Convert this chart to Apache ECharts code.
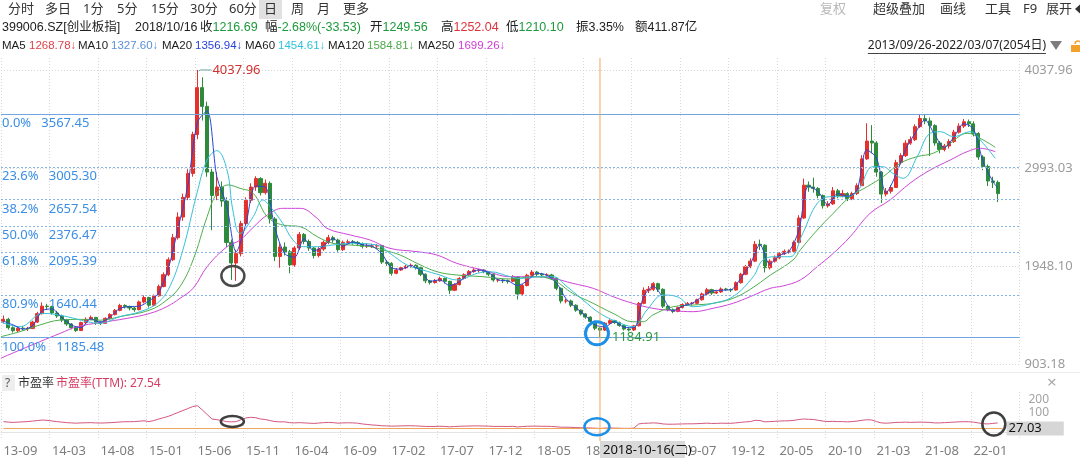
<!DOCTYPE html>
<html><head><meta charset="utf-8">
<script src="https://cdn.jsdelivr.net/npm/echarts@6/dist/echarts.min.js"></script>
<style>html,body{margin:0;padding:0;background:#fff;}#c{width:1080px;height:458px;}</style>
</head><body><div id="c"></div>
<script>
// ---- data (10-trading-day bars, 2013/09/26 - 2022/03/07) ----
const tickLabels = ['13-09','14-03','14-08','15-01','15-06','15-11','16-04','16-09','17-02','17-07','17-12','18-05','18-10','19-03','19-07','19-12','20-05','20-10','21-03','21-08','22-01'];
const opens = [
1360,1380,1290,1258,1285,1282,1283,1350,1440,1520,
1515,1447,1415,1372,1330,1290,1260,1345,1380,1400,
1350,1337,1390,1430,1475,1528,1517,1500,1482,1565,
1612,1530,1630,1730,1855,2015,2250,2470,2680,2935,
3350,3850,3650,2950,2700,2790,2640,2200,1980,2080,
2400,2650,2790,2880,2730,2830,2450,2050,2150,2100,
1960,2140,2285,2210,2140,2060,2130,2200,2250,2225,
2122,2200,2207,2200,2185,2158,2160,2161,2165,1990,
1976,1870,1905,1930,1945,1956,1930,1860,1790,1772,
1790,1815,1785,1690,1750,1815,1855,1890,1905,1905,
1890,1860,1799,1799,1790,1785,1830,1650,1740,1850,
1883,1860,1852,1852,1818,1710,1575,1575,1530,1477,
1437,1403,1358,1285,1265,1338,1365,1346,1315,1276,
1266,1310,1550,1690,1700,1760,1700,1520,1482,1463,
1505,1537,1550,1550,1588,1650,1695,1660,1672,1703,
1697,1692,1770,1860,1940,2000,2180,2170,1930,2000,
2035,2080,2105,2105,2200,2460,2810,2790,2775,2700,
2590,2610,2750,2695,2720,2665,2720,2805,3090,3280,
3260,2950,2715,2745,2785,3050,3125,3258,3295,3434,
3520,3495,3445,3260,3190,3228,3275,3375,3440,3486,
3464,3360,3110,3010,2855,2840];
const closes = [
1380,1290,1258,1285,1282,1283,1350,1440,1520,1515,
1447,1415,1372,1330,1290,1260,1345,1380,1400,1350,
1337,1390,1430,1475,1528,1517,1500,1482,1565,1612,
1530,1630,1730,1855,2015,2250,2470,2680,2935,3350,
3850,3650,2950,2700,2790,2640,2200,1980,2080,2400,
2650,2790,2880,2730,2830,2450,2050,2150,2100,1960,
2140,2285,2210,2140,2060,2130,2200,2250,2225,2122,
2200,2207,2200,2185,2158,2160,2161,2165,1990,1976,
1870,1905,1930,1945,1956,1930,1860,1790,1772,1790,
1815,1785,1690,1750,1815,1855,1890,1905,1905,1890,
1860,1799,1799,1790,1785,1830,1650,1740,1850,1883,
1860,1852,1852,1818,1710,1575,1575,1530,1477,1437,
1403,1358,1285,1265,1338,1365,1346,1315,1276,1266,
1310,1550,1690,1700,1760,1700,1520,1482,1463,1505,
1537,1550,1550,1588,1650,1695,1660,1672,1703,1697,
1692,1770,1860,1940,2000,2180,2170,1930,2000,2035,
2080,2105,2105,2200,2460,2810,2790,2775,2700,2590,
2610,2750,2695,2720,2665,2720,2805,3090,3280,3260,
2950,2715,2745,2785,3050,3125,3258,3295,3434,3520,
3495,3445,3260,3190,3228,3275,3375,3440,3486,3464,
3360,3110,3010,2855,2840,2720];
const lows = [
1335,1270,1238,1245,1260,1255,1275,1340,1430,1480,
1430,1395,1350,1310,1272,1245,1255,1330,1370,1320,
1318,1330,1380,1420,1465,1495,1475,1460,1475,1550,
1505,1520,1620,1720,1840,2000,2230,2430,2650,2900,
3300,3500,2900,2330,2650,2580,2150,1800,1790,2050,
2380,2620,2750,2700,2710,2400,2000,1930,2060,1870,
1940,2120,2180,2110,2030,2040,2110,2180,2195,2100,
2110,2180,2175,2160,2135,2140,2140,2130,1970,1950,
1845,1860,1895,1915,1930,1910,1840,1765,1750,1760,
1780,1760,1650,1680,1740,1805,1845,1875,1880,1870,
1840,1780,1775,1765,1760,1775,1590,1635,1730,1835,
1840,1830,1830,1800,1690,1550,1550,1510,1460,1420,
1385,1340,1265,1184.91,1255,1325,1330,1300,1260,1250,
1255,1305,1540,1660,1680,1670,1500,1465,1445,1455,
1495,1525,1530,1540,1580,1640,1640,1650,1660,1680,
1670,1685,1760,1850,1925,1990,2120,1880,1910,1985,
2020,2065,2080,2095,2190,2450,2740,2730,2670,2560,
2570,2600,2670,2680,2640,2650,2705,2800,3080,3150,
2900,2620,2690,2720,2780,3030,3110,3240,3280,3420,
3460,3120,3230,3150,3170,3200,3260,3360,3420,3430,
3330,3080,2970,2800,2780,2630];
const highs = [
1420,1395,1305,1300,1310,1300,1365,1460,1560,1545,
1525,1470,1430,1385,1340,1300,1355,1400,1420,1405,
1360,1400,1445,1490,1545,1540,1525,1510,1580,1635,
1620,1645,1750,1880,2040,2290,2520,2720,2980,3380,
4037.96,3960,3700,3000,2950,2850,2680,2230,2120,2430,
2680,2830,2905,2895,2870,2850,2470,2190,2200,2120,
2160,2310,2300,2230,2150,2150,2220,2280,2270,2240,
2220,2230,2225,2215,2200,2190,2185,2180,2170,2010,
1990,1925,1945,1960,1975,1965,1940,1870,1800,1810,
1835,1825,1790,1765,1830,1870,1905,1925,1920,1915,
1895,1870,1815,1810,1805,1850,1840,1755,1865,1905,
1895,1875,1870,1865,1825,1720,1600,1590,1540,1485,
1445,1410,1365,1300,1350,1380,1375,1355,1320,1285,
1320,1565,1720,1735,1775,1770,1710,1530,1495,1515,
1550,1565,1565,1600,1665,1715,1705,1690,1720,1715,
1710,1785,1875,1960,2030,2215,2230,2180,2020,2060,
2095,2125,2125,2220,2490,2880,2850,2890,2790,2710,
2640,2790,2770,2760,2735,2740,2830,3130,3470,3450,
3280,2960,2780,2810,3080,3150,3290,3330,3460,3567.45,
3565,3530,3460,3280,3250,3300,3400,3470,3515,3510,
3490,3375,3130,3030,2900,2860];
const peValues = [
80,76,74,76,78,80,84,88,92,90,
85,80,76,72,70,68,70,71,72,70,
69,70,72,74,77,79,79,80,83,86,
80,88,100,110,120,135,150,165,180,195,
202,170,135,100,95,88,80,78,80,95,
108,113,110,100,96,88,80,78,78,72,
70,72,70,68,66,69,72,74,72,68,
70,71,70,68,62,58,54,52,48,47,
45,46,47,48,48,47,45,43,42,43,
44,43,40,42,44,45,46,47,47,46,
45,43,43,43,42,44,39,42,44,45,
45,44,44,43,40,37,37,36,34,33,
32,31,29,27.5,30,31,30,29,28,28,
30,62,67,68,70,68,62,60,60,61,
62,63,63,64,66,68,66,66,68,67,
67,70,74,78,80,90,88,78,80,82,
84,86,86,90,96,100,98,96,90,84,
80,82,80,80,78,80,84,90,94,93,
80,70,68,70,74,74,76,74,75,76,
75,74,70,70,72,74,76,78,79,79,
76,70,64,62,66,70];
// moving averages: [bar index, value]
const ma20 = [[0,1360],[2,1320],[4,1275],[6,1310],[8,1470],[10,1490],[12,1400],[14,1320],[16,1290],[18,1385],[20,1350],[22,1405],[24,1495],[26,1515],[28,1520],[30,1575],[32,1660],[34,1920],[36,2350],[38,2800],[40,3480],[42,3600],[44,2900],[46,2600],[48,2100],[50,2400],[52,2800],[54,2790],[56,2350],[58,2080],[60,2040],[62,2240],[64,2110],[66,2160],[68,2240],[70,2160],[72,2205],[74,2175],[76,2160],[78,2080],[80,1930],[82,1915],[84,1950],[86,1900],[88,1785],[90,1800],[92,1740],[94,1780],[96,1870],[98,1905],[100,1880],[102,1800],[104,1790],[106,1740],[108,1790],[110,1870],[112,1852],[114,1770],[116,1600],[118,1505],[120,1420],[122,1320],[124,1300],[126,1355],[128,1295],[130,1290],[132,1620],[134,1730],[136,1610],[138,1470],[140,1520],[142,1550],[144,1620],[146,1680],[148,1690],[150,1695],[152,1815],[154,1970],[156,2175],[158,1970],[160,2060],[162,2105],[164,2330],[166,2800],[168,2740],[170,2600],[172,2720],[174,2690],[176,2760],[178,3185],[180,3100],[182,2730],[184,2920],[186,3190],[188,3365],[190,3505],[192,3350],[194,3210],[196,3325],[198,3465],[200,3410],[202,3060],[204,2850],[205,2780]];
const ma60 = [[-0.5,1350],[3.4,1301],[8.2,1443],[13.1,1408],[17.2,1355],[19.9,1337],[24,1408],[28.2,1461],[31.7,1550],[34.3,1728],[37,2119],[39.9,2723],[42,3078],[44,3178],[46.1,2972],[47.3,2545],[48.8,2296],[51.5,2474],[53.5,2652],[55,2581],[57.6,2403],[59.7,2225],[61.8,2154],[64.7,2154],[67.9,2172],[71.5,2190],[77,2172],[79.7,2083],[83.2,1959],[86.5,1905],[90,1852],[93.5,1799],[97.7,1870],[100.3,1887],[104.5,1834],[106.5,1816],[110.6,1834],[113.3,1834],[116.2,1728],[119.5,1586],[123,1443],[126.5,1354],[129.8,1301],[132.7,1479],[136,1639],[138.9,1621],[142.2,1514],[146.3,1550],[150.4,1621],[154.6,1834],[156.6,2012],[159.5,2047],[162.2,2047],[164.8,2296],[167.8,2616],[170.4,2687],[173.1,2687],[176,2741],[179.3,3007],[181.3,3007],[183.4,2936],[185.5,2883],[188.4,3114],[191.1,3363],[193.2,3380],[195.9,3327],[199.3,3380],[202,3256],[204.5,3096]];
const ma120 = [[-0.5,1195],[3.4,1248],[7.5,1319],[11.7,1372],[15.8,1379],[19.9,1370],[24,1408],[30.2,1479],[33.7,1586],[36.4,1728],[39.1,2012],[42,2474],[44,2723],[46.3,2812],[48.8,2776],[51.5,2723],[54.4,2474],[57.6,2385],[61.2,2367],[64.7,2261],[67.9,2190],[71.5,2172],[75.6,2154],[78.3,2119],[81.8,2065],[85.3,1976],[89.4,1887],[93.5,1852],[98.9,1834],[104.5,1810],[109.2,1834],[113.3,1799],[117.4,1656],[121.6,1550],[125.7,1443],[129.8,1354],[131.9,1354],[133.9,1425],[138.1,1514],[142.2,1532],[146.3,1550],[150.4,1603],[154,1700],[158.1,1850],[162.8,2012],[164.3,2119],[167.8,2332],[171.1,2510],[174.6,2687],[178.1,2794],[181.4,2901],[184.9,3043],[188.4,3114],[191.7,3150],[195.2,3256],[198.7,3363],[202,3292],[204.5,3213]];
const ma250 = [[-0.5,966],[3.4,1052],[7.5,1141],[11.7,1230],[15.2,1301],[19.9,1344],[25.5,1390],[30.2,1443],[33.7,1515],[36.4,1603],[39.1,1710],[42,1941],[46.1,2154],[48.8,2225],[51.3,2350],[54.4,2492],[57.6,2563],[61.2,2563],[64.7,2456],[66.7,2350],[71.5,2279],[75.6,2225],[79.7,2136],[85.3,2101],[89.4,2065],[93.5,1976],[98.9,1905],[104.5,1834],[109.2,1834],[113.3,1816],[117.4,1763],[121.6,1710],[125.7,1621],[129.8,1550],[133.9,1497],[138.1,1472],[142.2,1461],[146.3,1497],[150.4,1550],[154,1622],[158.1,1710],[160.7,1735],[164.3,1799],[167.8,1941],[171.1,2083],[174.6,2261],[178.7,2510],[182.8,2652],[186.9,2830],[191.1,2972],[195.2,3078],[198.7,3167],[201.4,3203],[204.5,3167]];
const fibLevels = [['0.0%',3567.45,true],['23.6%',3005.30,false],['38.2%',2657.54,false],['50.0%',2376.47,false],['61.8%',2095.39,false],['80.9%',1640.44,false],['100.0%',1185.48,true]];
const yTickValues = [903.18, 1948.10, 2993.03, 4037.96];
const peTickValues = [100, 200];
const peakIdx = 40, peakValue = 4037.96, lowIdx = 123, lowValue = 1184.91;
const crossIdx = 123, crossDate = '2018-10-16(二)', crossPE = 27.03;
const maLegend = [['MA5','1268.78↓','#e0434b'],['MA10','1327.60↓','#5b8fd8'],['MA20','1356.94↓','#2741d8'],['MA60','1454.61↓','#2fc2d8'],['MA120','1584.81↓','#4caa4a'],['MA250','1699.26↓','#d23ad6']];

// ---- chart ----
const FONT = "'Noto Sans','Noto Sans CJK SC',sans-serif";
const FONT2 = "'Liberation Sans','Noto Sans CJK SC',sans-serif";
const N = 210;
const categories = Array.from({length: N}, (_, i) => 'B' + i);
const every10 = (i) => i % 10 === 0 && i <= 200;
const candleData = closes.map((c, i) => [opens[i], c, lows[i], highs[i]]);

const markData = [];
yTickValues.forEach(v => markData.push({yAxis: v, lineStyle: {type: [1, 2], color: '#d6d6d6', width: 1}, label: {show: false}}));
fibLevels.forEach(([pct, v, solid]) => markData.push({
  yAxis: v,
  lineStyle: solid ? {type: 'solid', color: '#6fa5e0', width: 1} : {type: [2, 2], color: '#86b6ea', width: 1},
  label: {show: true, position: 'insideStartBottom', distance: [1, 3], formatter: pct + '   ' + v.toFixed(2), color: '#3a8ee6', fontSize: 13, fontFamily: FONT}
}));

const option = {
  animation: false,
  backgroundColor: '#ffffff',
  grid: [
    {left: 1, right: 60.5, top: 58, height: 306},
    {left: 1, right: 60.5, top: 392, height: 48}
  ],
  xAxis: [
    {type: 'category', gridIndex: 0, data: categories, axisLine: {show: false}, axisTick: {show: false}, axisLabel: {show: false},
     splitLine: {show: true, interval: every10, lineStyle: {type: [1, 2], color: '#d9d9d9'}}},
    {type: 'category', gridIndex: 1, data: categories, axisLine: {show: true, lineStyle: {color: '#e4e4e4'}}, axisTick: {show: false},
     axisLabel: {interval: every10, formatter: (v, i) => tickLabels[i / 10] || '', align: 'left', color: '#7d7d7d', fontSize: 13, margin: 5, fontFamily: FONT},
     splitLine: {show: true, interval: every10, lineStyle: {type: [1, 2], color: '#d9d9d9'}}},
    {type: 'value', gridIndex: 0, min: -0.5, max: N - 0.5, show: false}
  ],
  yAxis: [
    {type: 'value', gridIndex: 0, position: 'right', min: 903.18, max: 4165.91, splitLine: {show: false}, axisLine: {show: false}, axisTick: {show: false},
     axisLabel: {customValues: yTickValues, formatter: v => v.toFixed(2), color: '#9b9b9b', fontSize: 13, margin: 5, fontFamily: FONT}},
    {type: 'value', gridIndex: 1, position: 'right', min: -61.5, max: 307.7, splitLine: {show: false}, axisLine: {show: false}, axisTick: {show: false},
     axisLabel: {customValues: peTickValues, verticalAlign: 'bottom', color: '#a3a3a3', fontSize: 12, margin: 9, fontFamily: FONT}}
  ],
  series: [
    {type: 'candlestick', xAxisIndex: 0, yAxisIndex: 0, data: candleData, barWidth: 3.6,
     itemStyle: {color: '#e5312c', color0: '#2e8b3b', borderColor: '#e5312c', borderColor0: '#2e8b3b', borderWidth: 1},
     markLine: {silent: true, symbol: ['none', 'none'], animation: false, data: markData}},
    {type: 'line', name: 'MA250', xAxisIndex: 2, yAxisIndex: 0, data: ma250, showSymbol: false, smooth: 0.4, lineStyle: {color: '#cf45d8', width: 1}},
    {type: 'line', name: 'MA120', xAxisIndex: 2, yAxisIndex: 0, data: ma120, showSymbol: false, smooth: 0.4, lineStyle: {color: '#4fae4d', width: 1}},
    {type: 'line', name: 'MA60', xAxisIndex: 2, yAxisIndex: 0, data: ma60, showSymbol: false, smooth: 0.4, lineStyle: {color: '#36c2d8', width: 1}},
    {type: 'line', name: 'MA20', xAxisIndex: 2, yAxisIndex: 0, data: ma20, showSymbol: false, smooth: 0.3, lineStyle: {color: '#2a44d8', width: 1}},
    {type: 'line', name: 'PE', xAxisIndex: 1, yAxisIndex: 1, data: peValues, showSymbol: false, lineStyle: {color: '#d4577c', width: 1},
     markLine: {silent: true, symbol: ['none', 'none'], animation: false,
       lineStyle: {type: 'solid', color: '#f0a65a', width: 1},
       label: {show: true, position: 'end', distance: 4, formatter: crossPE.toFixed(2), color: '#111', fontSize: 13, fontFamily: FONT, backgroundColor: '#d6d6d6', padding: [1, 22, 0, 2]},
       data: [[{coord: [0, crossPE]}, {coord: [206, crossPE]}]]}}
  ]
};

const chart = echarts.init(document.getElementById('c'));
chart.setOption(option);

const P = (i, v) => chart.convertToPixel({seriesIndex: 0}, [i, v]);
const PP = (i, v) => chart.convertToPixel({seriesIndex: 5}, [i, v]);
const g = [];
function T(x, y, text, fill, size, extra, fam) {
  g.push({type: 'text', x: x, y: y, silent: true, z: 100, style: Object.assign({text: text, fill: fill, font: (size || 12) + 'px ' + (fam || FONT), align: 'left', verticalAlign: 'middle', textAlign: 'left', textVerticalAlign: 'middle'}, extra || {})});
}
function L(x1, y1, x2, y2, stroke, w, z) {
  g.push({type: 'line', silent: true, z: z || 90, shape: {x1: x1, y1: y1, x2: x2, y2: y2}, style: {stroke: stroke, lineWidth: w || 1}});
}
function E(cx, cy, rx, ry, stroke, w) {
  g.push({type: 'ellipse', silent: true, z: 95, shape: {cx: cx, cy: cy, rx: rx, ry: ry}, style: {fill: 'none', stroke: stroke, lineWidth: w}});
}
// toolbar
g.push({type: 'rect', silent: true, z: 99, shape: {x: 259, y: 0, width: 23, height: 19}, style: {fill: '#e1e1e1'}});
[['分时', 8], ['多日', 45], ['1分', 83], ['5分', 117], ['15分', 151], ['30分', 190], ['60分', 229], ['日', 264], ['周', 291], ['月', 317], ['更多', 343]].forEach(([t, x]) => T(x, 9.5, t, '#333', 13));
T(820, 9.5, '复权', '#b8b8b8', 13);
[['超级叠加', 873], ['画线', 940], ['工具', 985], ['F9', 1023], ['展开', 1046]].forEach(([t, x]) => T(x, 9.5, t, '#333', 13));
g.push({type: 'polygon', silent: true, z: 100, shape: {points: [[1080, 4.5], [1080, 13.5], [1075, 9]]}, style: {fill: '#333'}});
// info row
const DK = '#222', GR = '#1d9a3c', RD = '#e0323a';
const f12 = '12.5px ' + FONT2;
T(2, 27.5, '399006.SZ[创业板指]', DK, 12.5, null, FONT2);
T(135, 27.5, '2018/10/16', DK, 12.5, null, FONT2);
const rich = {k: {fill: DK, font: f12}, g: {fill: GR, font: f12}, r: {fill: RD, font: f12}, d: {fill: DK, font: f12}};
[['{k|收}{g|1216.69}', 200], ['{k|幅}{g|-2.68%(-33.53)}', 265], ['{k|开}{g|1249.56}', 370], ['{k|高}{r|1252.04}', 441], ['{k|低}{g|1210.10}', 506], ['{k|振}{d|3.35%}', 576], ['{k|额}{d|411.87亿}', 635]].forEach(([t, x]) => T(x, 27.5, t, DK, 12.5, {rich: rich}, FONT2));
// MA legend row
const maNameX = [2, 78, 162, 245, 328, 418];
const maValX = [29, 111, 195, 278, 367, 458];
maLegend.forEach(([n, v, c], i) => { T(maNameX[i], 45.5, n, DK, 11.5, null, FONT2); T(maValX[i], 45.5, v, c, 11.5, null, FONT2); });
const rangeText = '2013/09/26-2022/03/07(2054日)';
const ctx = document.createElement('canvas').getContext('2d');
ctx.font = '12px ' + FONT;
const rw = ctx.measureText(rangeText).width;
T(1046 - rw, 45.5, rangeText, DK, 12);
L(1046 - rw, 53.5, 1046, 53.5, '#444', 1);
g.push({type: 'polygon', silent: true, z: 100, shape: {points: [[1050, 41], [1062, 41], [1056, 50]]}, style: {fill: '#7c7c7c'}});
g.push({type: 'rect', silent: true, z: 100, shape: {x: 1071, y: 45, width: 9, height: 7}, style: {fill: '#f2a12a'}});
g.push({type: 'arc', silent: true, z: 100, shape: {cx: 1078, cy: 44, r: 3, startAngle: Math.PI, endAngle: Math.PI * 2}, style: {fill: 'none', stroke: '#f2a12a', lineWidth: 1.5}});
// panel separator
L(0, 372.5, 1080, 372.5, '#ebebeb', 1, 5);
// PE header
g.push({type: 'rect', silent: true, z: 99, shape: {x: 2, y: 375, width: 13, height: 16}, style: {fill: '#eeeeee'}});
T(5, 383.5, '?', '#555', 12);
T(18, 383.5, '市盈率', '#333', 12);
T(56, 383.5, '市盈率(TTM): 27.54', '#d63b62', 12);
T(1047, 383, '×', '#a8a8a8', 17);
// peak / low markers
const pk = P(peakIdx, peakValue);
L(pk[0] + 1, pk[1] + 1, pk[0] + 3, pk[1], '#6aa5a0', 1);
L(pk[0] + 3, pk[1], pk[0] + 14, pk[1], '#6aa5a0', 1);
T(pk[0] + 15, pk[1], peakValue.toFixed(2), '#d0312f', 13);
const lw = P(lowIdx, lowValue);
L(lw[0] + 1, lw[1], lw[0] + 11, lw[1], '#6aa5a0', 1);
T(lw[0] + 12, lw[1], lowValue.toFixed(2), '#2c9a3c', 13);
// crosshair
const cx = P(crossIdx, 0)[0];
L(cx, 58, cx, 441, '#f0a65a', 1, 80);
g.push({type: 'rect', silent: true, z: 99, shape: {x: cx, y: 441, width: 85, height: 17}, style: {fill: '#d9d9d9'}});
T(cx + 3, 450, crossDate, '#111', 13);
// hand-drawn rings
const r1 = P(47, 1842); E(r1[0] + 1.5, r1[1], 11.5, 10, '#4a4a4a', 2.5);
const r2 = P(lowIdx, 1230); E(r2[0] - 3, r2[1], 11.5, 11.5, '#1c8fe8', 3);
const r3 = PP(47, 80); E(r3[0] + 1, r3[1], 11.5, 5.5, '#3f3f3f', 2.5);
const r4 = PP(lowIdx, 40); E(r4[0] - 3, r4[1], 12.5, 8.5, '#1c8fe8', 2.5);
const r5 = PP(204, 62); E(r5[0] + 1, r5[1], 11.5, 11.5, '#3f3f3f', 2.5);
chart.setOption({graphic: {elements: g}});
</script></body></html>
